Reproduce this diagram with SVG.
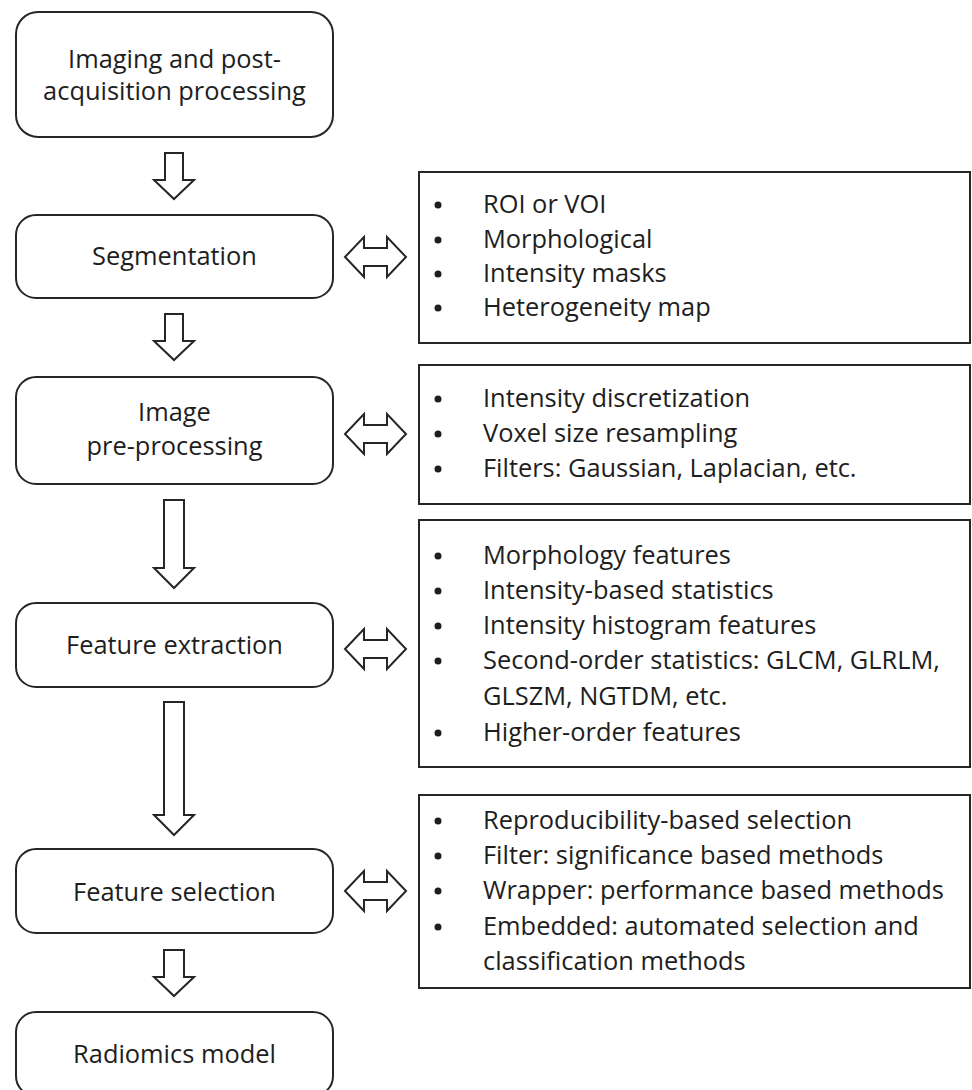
<svg xmlns="http://www.w3.org/2000/svg" width="972" height="1090" viewBox="0 0 972 1090">
<style>
.box{fill:#fff;stroke:#262626;stroke-width:2}
.arr{fill:#fff;stroke:#262626;stroke-width:2;stroke-linejoin:miter}
text{font-family:"Open Sans","Noto Sans","Liberation Sans",sans-serif;font-size:25.4px;fill:#1e1e1e}
.c{text-anchor:middle}
.dot{fill:#1e1e1e}
</style>
<rect width="972" height="1090" fill="#fff"/>
<g id="connectors">
<path class="arr" d="M165,153 H183 V180 H194 L174,199 L154,180 H165 Z"/>
<path class="arr" d="M165,314 H183 V341 H194 L174,360 L154,341 H165 Z"/>
<path class="arr" d="M164,500 H184 V568 H194 L174,588 L154,568 H164 Z"/>
<path class="arr" d="M164,702 H184 V815 H194 L174,835 L154,815 H164 Z"/>
<path class="arr" d="M164,950 H184 V977 H194 L174,996 L154,977 H164 Z"/>
<path class="arr" d="M345,257 L364,237 V248 H387 V237 L406,257 L387,277 V266 H364 V277 Z"/>
<path class="arr" d="M345,434 L364,414 V425 H387 V414 L406,434 L387,454 V443 H364 V454 Z"/>
<path class="arr" d="M345,649 L364,629 V640 H387 V629 L406,649 L387,669 V658 H364 V669 Z"/>
<path class="arr" d="M345,891 L364,871 V882 H387 V871 L406,891 L387,911 V900 H364 V911 Z"/>
</g>
<g id="n-imaging">
<rect class="box" x="16" y="12" width="317" height="125" rx="22"/>
<text class="c" x="174.5" y="68">Imaging and post-</text>
<text class="c" x="174.5" y="100">acquisition processing</text>
</g>
<g id="n-segmentation">
<rect class="box" x="16" y="215" width="317" height="83" rx="20"/>
<text class="c" x="174.5" y="265">Segmentation</text>
</g>
<g id="n-preprocessing">
<rect class="box" x="16" y="377" width="317" height="107" rx="20"/>
<text class="c" x="174.5" y="421">Image</text>
<text class="c" x="174.5" y="455">pre-processing</text>
</g>
<g id="n-extraction">
<rect class="box" x="16" y="603" width="317" height="84" rx="20"/>
<text class="c" x="174.5" y="654">Feature extraction</text>
</g>
<g id="n-selection">
<rect class="box" x="16" y="849" width="317" height="84" rx="20"/>
<text class="c" x="174.5" y="901">Feature selection</text>
</g>
<g id="n-model">
<rect class="box" x="16" y="1012" width="317" height="84" rx="20"/>
<text class="c" x="174.5" y="1063">Radiomics model</text>
</g>
<g id="n-seg-details">
<rect class="box" x="419" y="172" width="551" height="171"/>
<circle class="dot" cx="438" cy="205" r="3.5"/><text x="483" y="213">ROI or VOI</text>
<circle class="dot" cx="438" cy="240" r="3.5"/><text x="483" y="248">Morphological</text>
<circle class="dot" cx="438" cy="274" r="3.5"/><text x="483" y="282">Intensity masks</text>
<circle class="dot" cx="438" cy="308" r="3.5"/><text x="483" y="316">Heterogeneity map</text>
</g>
<g id="n-pre-details">
<rect class="box" x="419" y="365" width="551" height="139"/>
<circle class="dot" cx="438" cy="399" r="3.5"/><text x="483" y="407">Intensity discretization</text>
<circle class="dot" cx="438" cy="434" r="3.5"/><text x="483" y="442">Voxel size resampling</text>
<circle class="dot" cx="438" cy="469" r="3.5"/><text x="483" y="477">Filters: Gaussian, Laplacian, etc.</text>
</g>
<g id="n-ext-details">
<rect class="box" x="419" y="520" width="551" height="247"/>
<circle class="dot" cx="438" cy="556" r="3.5"/><text x="483" y="564">Morphology features</text>
<circle class="dot" cx="438" cy="591" r="3.5"/><text x="483" y="599">Intensity-based statistics</text>
<circle class="dot" cx="438" cy="626" r="3.5"/><text x="483" y="634">Intensity histogram features</text>
<circle class="dot" cx="438" cy="661" r="3.5"/><text x="483" y="669">Second-order statistics: GLCM, GLRLM,</text>
<text x="483" y="705">GLSZM, NGTDM, etc.</text>
<circle class="dot" cx="438" cy="733" r="3.5"/><text x="483" y="741">Higher-order features</text>
</g>
<g id="n-sel-details">
<rect class="box" x="419" y="795" width="551" height="193"/>
<circle class="dot" cx="438" cy="821" r="3.5"/><text x="483" y="829">Reproducibility-based selection</text>
<circle class="dot" cx="438" cy="856" r="3.5"/><text x="483" y="864">Filter: significance based methods</text>
<circle class="dot" cx="438" cy="891" r="3.5"/><text x="483" y="899">Wrapper: performance based methods</text>
<circle class="dot" cx="438" cy="927" r="3.5"/><text x="483" y="935">Embedded: automated selection and</text>
<text x="483" y="970">classification methods</text>
</g>
</svg>
